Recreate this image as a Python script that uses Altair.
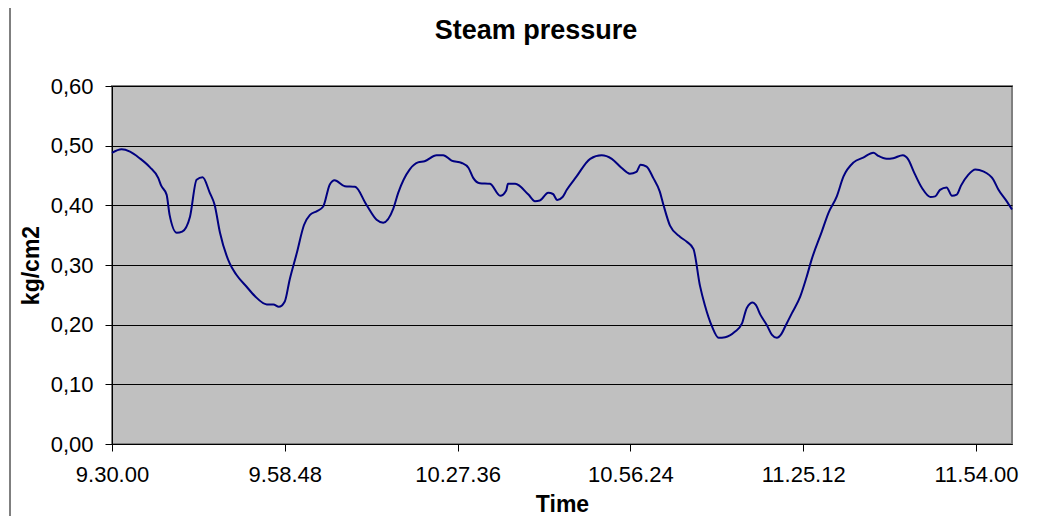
import altair as alt
import pandas as pd

# minutes after 9.30.00
minutes = [0, 1.6, 3.0, 4.6, 6.3, 7.7, 8.2, 9.1, 9.6, 10.8, 11.7, 13.0, 14.1, 15.1, 16.3, 17.1,
           18.0, 19.6, 20.7, 22.4, 23.8, 25.8, 26.9, 27.8, 28.8, 29.6, 30.8, 32.0, 33.0, 34.1,
           35.2, 36.3, 37.1, 38.8, 40.5, 42.4, 44.1, 45.2, 46.9, 47.7, 49.6, 51.0, 52.1, 54.1,
           55.2, 56.6, 58.3, 59.4, 60.2, 61.3, 63.0, 64.7, 65.7, 66.0, 67.2, 69.4, 70.5, 71.3,
           72.7, 73.5, 74.2, 75.1, 75.8, 77.4, 79.7, 81.6, 83.3, 84.9, 86.3, 87.4, 88.1, 89.1,
           90.2, 91.3, 91.9, 93.0, 94.7, 95.8, 96.9, 98.0, 98.8, 100.0, 101.1, 102.2, 103.8,
           105.0, 105.8, 106.8, 107.3, 108.1, 109.1, 110.0, 110.8, 111.6, 112.2, 113.3, 114.7,
           115.8, 116.6, 118.3, 119.4, 120.8, 121.9, 123.6, 125.2, 126.9, 127.7, 129.1, 130.2,
           131.8, 132.7, 133.6, 135.0, 136.4, 137.2, 138.0, 139.1, 140.0, 140.8, 141.5, 142.7,
           143.9, 145.2, 146.9, 147.7, 149.1, 150.0]
pressure = [0.488, 0.494, 0.490, 0.479, 0.464, 0.446, 0.433, 0.418, 0.384, 0.354, 0.356, 0.381,
            0.443, 0.447, 0.421, 0.401, 0.354, 0.303, 0.284, 0.264, 0.248, 0.234, 0.234, 0.230,
            0.239, 0.275, 0.320, 0.367, 0.384, 0.390, 0.398, 0.435, 0.442, 0.432, 0.431, 0.401,
            0.376, 0.371, 0.395, 0.421, 0.460, 0.472, 0.474, 0.484, 0.484, 0.475, 0.471, 0.463,
            0.446, 0.437, 0.436, 0.416, 0.425, 0.436, 0.436, 0.418, 0.407, 0.408, 0.421, 0.419,
            0.409, 0.414, 0.426, 0.448, 0.478, 0.484, 0.478, 0.463, 0.453, 0.456, 0.468, 0.465,
            0.446, 0.423, 0.401, 0.366, 0.347, 0.339, 0.327, 0.265, 0.233, 0.197, 0.178, 0.179,
            0.188, 0.202, 0.228, 0.237, 0.233, 0.216, 0.200, 0.183, 0.178, 0.185, 0.197, 0.219,
            0.247, 0.281, 0.309, 0.356, 0.387, 0.415, 0.448, 0.472, 0.480, 0.488, 0.483, 0.478,
            0.479, 0.484, 0.477, 0.457, 0.429, 0.414, 0.415, 0.426, 0.430, 0.416, 0.418, 0.433,
            0.451, 0.460, 0.457, 0.443, 0.427, 0.407, 0.393]

tick_minutes = [0, 28.8, 57.6, 86.4, 115.2, 144]
tick_labels = ["9.30.00", "9.58.48", "10.27.36", "10.56.24", "11.25.12", "11.54.00"]
y_ticks = [0, 0.1, 0.2, 0.3, 0.4, 0.5, 0.6]

df = pd.DataFrame({"t": minutes, "p": pressure})

label_expr = "''"
for v, lab in reversed(list(zip(tick_minutes, tick_labels))):
    label_expr = f"abs(datum.value - {v}) < 0.01 ? '{lab}' : ({label_expr})"

FONT = "Liberation Sans"

line = alt.Chart(df).mark_line(color="#000080", strokeWidth=2, interpolate="monotone").encode(
    x=alt.X("t:Q", scale=alt.Scale(domain=[0, 150], nice=False, zero=False),
            axis=alt.Axis(title="Time", values=tick_minutes, labelExpr=label_expr,
                          grid=False, tickSize=7, labelPadding=13, titlePadding=8,
                          labelFlush=False)),
    y=alt.Y("p:Q", scale=alt.Scale(domain=[0, 0.6], nice=False),
            axis=alt.Axis(title="kg/cm2", values=y_ticks,
                          labelExpr="replace(format(datum.value, '.2f'), '.', ',')",
                          grid=True, tickSize=7, labelPadding=12, titlePadding=7)),
)

border = alt.Chart(alt.Data(values=[{}])).mark_rule(color="black", strokeWidth=1).encode(
    x=alt.value(-102), y=alt.value(-78), y2=alt.value(440)
)

title = alt.Chart(alt.Data(values=[{"title": "Steam pressure"}])).mark_text(
    font=FONT, fontSize=27, fontWeight="bold", color="black",
    align="center", baseline="alphabetic"
).encode(
    text="title:N", x=alt.value(424), y=alt.value(-47)
)

chart = alt.layer(border, line, title).properties(
    width=900, height=358,
    background="white",
    autosize=alt.AutoSizeParams(type="none"),
    padding={"left": 104, "top": 78, "right": 30, "bottom": 72},
).configure_view(
    fill="#C0C0C0", stroke="#808080", strokeWidth=2
).configure_axis(
    labelFont=FONT, labelFontSize=22, labelColor="black",
    titleFont=FONT, titleFontSize=23, titleFontWeight="bold", titleColor="black",
    domainColor="black", domainWidth=1, tickColor="black", tickWidth=1,
    gridColor="black", gridWidth=1, gridOpacity=1
)

chart.save("out.html", embed_options={"renderer": "svg", "actions": False})
